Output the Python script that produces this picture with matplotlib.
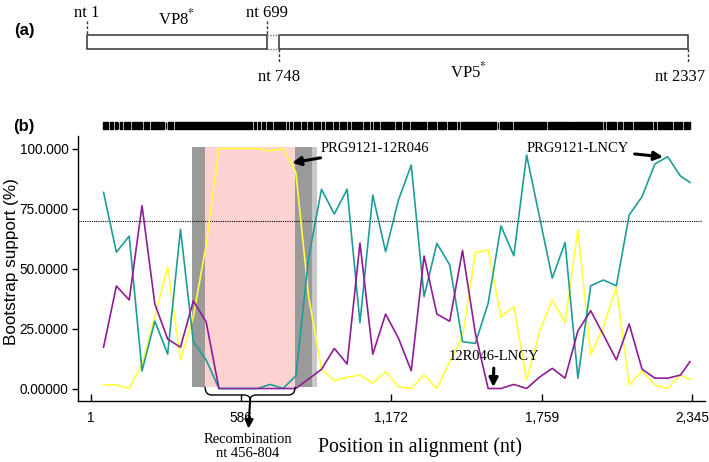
import matplotlib
matplotlib.use("Agg")
import matplotlib.pyplot as plt
from matplotlib.path import Path
from matplotlib.patches import PathPatch, Rectangle
import matplotlib.transforms as mtransforms

# window midpoints (nt)
pos = list(range(50, 2301, 50)) + [2337]

# bootstrap support (%)
prg_12r046 = [1.5, 1.5, 0, 10, 30, 50.8, 11.9, 29.9, 59.8, 100,
              100, 100, 100, 99, 100, 90, 38, 8, 3.3, 4.7,
              5.6, 2.2, 7, 0.7, 0, 5.6, 0, 11.2, 21.6, 56.6,
              57.7, 29.9, 34.1, 3.5, 23.7, 36.9, 27.4, 66.3, 14, 25.8,
              42.4, 1.5, 7.3, 1.5, 0, 5.6, 3.8]
prg_lncy = [81.7, 56.8, 63.5, 7.3, 28.1, 14.3, 66.3, 19.5, 11.9, 0,
            0, 0, 0, 1.7, 0, 5.3, 54.8, 83.0, 72.7, 83.0,
            27.4, 80.6, 57.0, 78.5, 93.1, 38.3, 60.5, 51.5, 19.5, 18.8,
            35.5, 67.7, 55.3, 97.3, 71.6, 46.0, 60.8, 4.3, 42.8, 45.2,
            42.8, 72.3, 79.9, 93.5, 96.6, 88.5, 85.9]
r046_lncy = [17.2, 42.7, 36.9, 76.2, 35.2, 20.6, 17.2, 36.5, 27.8, 0,
             0, 0, 0, 0, 0, 0, 4, 8, 16.7, 10.2,
             60.6, 14.3, 31, 21, 7.4, 55.2, 31, 28, 57.5, 23,
             0, 0, 1.7, 0, 4.7, 8.4, 4.3, 24, 32.4, 22.3,
             11.9, 26.9, 8.1, 4.3, 4.3, 5.6, 11.2]

# informative sites bar: gaps (nt)
bar_start, bar_end = 48, 2337
gaps = [72, 92, 104, 111, 125, 156, 182, 203, 231, 290, 296, 325,
        632, 647, 663, 684, 712, 762, 774, 790, 806, 819, 842, 868,
        897, 914, 946, 969, 998, 1014, 1063, 1089, 1102, 1128, 1187,
        1213, 1245, 1278, 1310, 1349, 1388, 1427, 1440, 1586, 1593,
        1648, 1778, 1876, 1882, 1999, 2010, 2051, 2062, 2077, 2116,
        2194, 2207, 2272, 2292, 2311, 2331]

# shaded regions (nt)
dark_left = (396, 446)
recomb = (446, 797)
dark_right = (797, 862)
light_right = (862, 881)

xticks = [1, 586, 1172, 1759, 2345]
xticklabels = ["1", "586", "1,172", "1,759", "2,345"]
yticks = [0, 25, 50, 75, 100]
yticklabels = ["0.00000", "25.0000", "50.0000", "75.0000", "100.000"]
cutoff = 70

# genome map
vp8 = (1, 699)
vp5 = (748, 2337)

plt.rcParams['mathtext.fontset'] = 'stix'
SANS = 'Liberation Sans'
SERIF = 'Liberation Serif'

W, H = 709, 462
fig = plt.figure(figsize=(W / 100, H / 100), dpi=100)


def box(l, t, r, b):
    return [l / W, 1 - b / H, (r - l) / W, (b - t) / H]


# ---------- panel (b)
ax = fig.add_axes(box(78, 136, 705, 401))
ax.set_xlim(1 - 13 / 0.2564, 1 + 614 / 0.2564)
ax.set_ylim((388.5 - 401) / 2.4, (388.5 - 136) / 2.4)

ax.fill_between(dark_left, 0.7, 100.7, color='#9a9a9a', lw=0, zorder=1)
ax.fill_between(recomb, 0.7, 100.7, color='#ffd2d2', lw=0, zorder=1)
ax.fill_between(dark_right, 0.7, 100.7, color='#9a9a9a', lw=0, zorder=1)
ax.fill_between(light_right, 0.7, 100.7, color='#c8c8c8', lw=0, zorder=1)

ax.axhline(cutoff, xmax=0.995, color='black', ls=(0, (1, 1)), lw=0.8, zorder=2)

ax.plot(pos, prg_12r046, color='#ffff3c', lw=1.2, zorder=3)
ax.plot(pos, prg_lncy, color='#1f9c98', lw=1.2, zorder=4)
ax.plot(pos, r046_lncy, color='#8e1c94', lw=1.2, zorder=5)

# informative sites bar
gw = 3.5
starts = [bar_start] + [g + gw for g in gaps]
ends = [g - gw for g in gaps] + [bar_end]
ax.broken_barh([(s, e - s) for s, e in zip(starts, ends)], (108.2, 2.9),
               color='black', clip_on=False)

for s in ['top', 'right']:
    ax.spines[s].set_visible(False)
for s in ['left', 'bottom']:
    ax.spines[s].set_linewidth(1.0)
ax.set_xticks(xticks, xticklabels)
ax.set_yticks(yticks, yticklabels)
ax.tick_params(axis='x', direction='in', length=5, width=1, pad=7)
ax.tick_params(axis='y', direction='out', length=4, width=1, pad=3)
for lab in ax.get_xticklabels() + ax.get_yticklabels():
    lab.set_fontfamily(SANS)
    lab.set_fontsize(9.8)

ax.set_xlabel("Position in alignment (nt)", family=SERIF, fontsize=14.3)
ax.xaxis.set_label_coords(0.545, -0.135)

# annotations
arrow = dict(arrowstyle='-|>', color='black', lw=2.2, mutation_scale=13,
             shrinkA=2, shrinkB=0)
ax.annotate("PRG9121-12R046", xy=(785, 94), xytext=(898, 100.2),
            family=SERIF, fontsize=10.5, ha='left', va='center',
            arrowprops=arrow)
ax.annotate("PRG9121-LNCY", xy=(2232, 96.5), xytext=(1900, 100.2),
            family=SERIF, fontsize=10.5, ha='center', va='center',
            arrowprops=arrow)
ax.annotate("12R046-LNCY", xy=(1570, 0.6), xytext=(1573, 13.5),
            family=SERIF, fontsize=10.5, ha='center', va='center',
            arrowprops=arrow)

# brace under recombination region
a, b = recomb
m = (a + b) / 2
yt, yh, yp = 0.7, -2.7, -4.8
d = 25
verts = [(a, yt), (a, yh), (a + d, yh), (m - d, yh), (m, yh), (m, yp),
         (m, yh), (m + d, yh), (b - d, yh), (b, yh), (b, yt)]
codes = [Path.MOVETO, Path.CURVE3, Path.CURVE3, Path.LINETO, Path.CURVE3,
         Path.CURVE3, Path.CURVE3, Path.CURVE3, Path.LINETO, Path.CURVE3,
         Path.CURVE3]
ax.add_patch(PathPatch(Path(verts, codes), fill=False, lw=1.0,
                       color='black', clip_on=False, zorder=6))
ax.annotate("Recombination\nnt 456-804", xy=(m, yp), xytext=(m - 10, -24),
            family=SERIF, fontsize=10.5, ha='center', va='center',
            linespacing=1.1, annotation_clip=False,
            arrowprops=dict(arrowstyle='<|-', color='black', lw=1.5,
                            mutation_scale=13, shrinkA=1, shrinkB=0))

# ---------- panel (a)
axa = fig.add_axes(box(87, 0, 688, 100))
axa.set_xlim(vp8[0], vp5[1])
axa.set_ylim(100, 0)
axa.axis('off')
top, bot = 34.5, 49
for seg in (vp8, vp5):
    axa.add_patch(Rectangle((seg[0], top), seg[1] - seg[0], bot - top,
                            fill=False, ec='#333333', lw=1.1, clip_on=False))
axa.plot([vp8[1], vp5[0]], [top, top], color='#777777', ls=(0, (1, 1)), lw=1.0)
axa.plot([vp8[1], vp5[0]], [bot, bot], color='#777777', ls=(0, (1, 1)), lw=1.0)
for x in vp8:
    axa.plot([x, x], [21, top], color='#333333', ls=(0, (2, 1.5)), lw=1.0,
             clip_on=False)
for x in vp5:
    axa.plot([x, x], [bot, 62], color='#333333', ls=(0, (2, 1.5)), lw=1.0,
             clip_on=False)
kw = dict(family=SERIF, fontsize=12, ha='center', va='baseline', clip_on=False)
axa.text(vp8[0], 17, "nt %d" % vp8[0], **kw)
axa.text(vp8[1], 17, "nt %d" % vp8[1], **kw)
axa.text((vp8[0] + vp8[1]) / 2, 24, "VP8$^{*}$", **kw)
axa.text(vp5[0], 81, "nt %d" % vp5[0], **kw)
axa.text((vp5[0] + vp5[1]) / 2 - 60, 77, "VP5$^{*}$", **kw)
axa.text(vp5[1], 81, "nt %d" % vp5[1],
         transform=mtransforms.offset_copy(axa.transData, fig=fig, x=-8, y=0,
                                           units='dots'), **kw)

fig.text(24 / W, 1 - 31 / H, "(a)", ha='center', va='center',
         fontweight='bold', fontsize=12, family=SANS)
fig.text(24 / W, 1 - 126 / H, "(b)", ha='center', va='center',
         fontweight='bold', fontsize=12, family=SANS)
fig.text(12 / W, 1 - 262 / H, "Bootstrap support (%)", rotation=90,
         ha='center', va='center', fontsize=12.3, family=SANS)

fig.savefig('out.png', dpi=100)
